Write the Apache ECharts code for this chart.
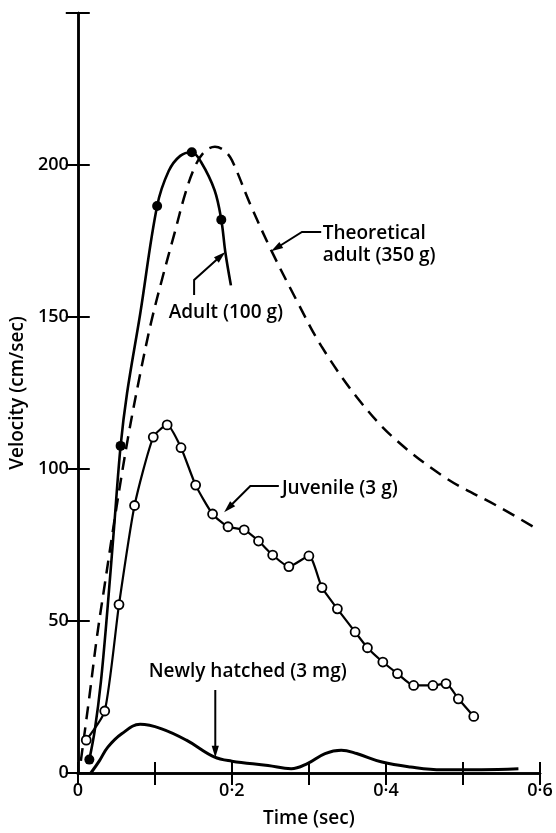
<!DOCTYPE html>
<html><head><meta charset="utf-8">
<script src="https://cdn.jsdelivr.net/npm/echarts@6/dist/echarts.min.js"></script>
<style>html,body{margin:0;padding:0;background:#fff}#c{width:556px;height:833px}</style>
</head><body><div id="c"></div>
<script>
// ---- data (time in sec, velocity in cm/sec) ----
const theoTime = [0.004,0.015,0.025,0.035,0.05,0.065,0.08,0.095,0.11,0.125,0.14,0.153,0.165,0.178,0.19,0.2,0.224,0.251,0.284,0.316,0.362,0.409,0.478,0.547,0.598];
const theoVel  = [4,25,45,62,87,110,130,148,163,177,191,200,204.5,206,204.8,201.6,187,172,155.5,140.5,123.7,110.5,97,87.5,80];

const adultTime = [0.015,0.022,0.03,0.0384,0.047,0.0556,0.064,0.081,0.103,0.118,0.133,0.148,0.16,0.1776,0.1863,0.1915,0.1988];
const adultVel  = [4.4,14,30,53.5,80.5,107.6,125,151,186.5,198,203,204.2,201,191.7,182,171.4,160.4];
const adultDotTime = [0.015,0.0556,0.103,0.148,0.1863];
const adultDotVel  = [4.4,107.6,186.5,204.2,182];

const juvTime = [0.011,0.035,0.0535,0.0737,0.098,0.116,0.134,0.153,0.175,0.195,0.216,0.2346,0.253,0.274,0.300,0.317,0.337,0.360,0.376,0.396,0.415,0.436,0.461,0.478,0.494,0.514];
const juvVel  = [10.8,20.4,55.4,88,110.5,114.5,107,94.7,85.2,81,80,76.3,71.7,67.9,71.4,61,54,46.4,41.2,36.5,32.7,28.8,28.8,29.4,24.4,18.6];

const hatchTime = [0.017,0.028,0.039,0.057,0.081,0.108,0.141,0.177,0.2,0.247,0.277,0.298,0.321,0.342,0.362,0.395,0.432,0.473,0.524,0.572];
const hatchVel  = [0,4,8.5,12.9,16,14.6,10.8,5.3,3.9,2.5,1.4,3.1,6.4,7.5,6.4,3.6,2,1.1,1.1,1.4];

const xTickLabels = {0:'0',2:'0·2',4:'0·4',6:'0·6'};
const yTickLabels = [0,50,100,150,200];

const xTitle = 'Time (sec)';
const yTitle = 'Velocity (cm/sec)';

// annotation anchors in data coordinates: text lines, arrow path (last point = tip)
const notes = [
  {lines:['Theoretical','adult (350 g)'], at:[0.318,177.6], path:[[0.316,178],[0.291,178],[0.251,171.6]]},
  {lines:['Adult (100 g)'], at:[0.118,151.3], path:[[0.151,157.2],[0.151,162.2],[0.1915,171.4]]},
  {lines:['Juvenile (3 g)'], at:[0.265,93.4], path:[[0.261,94.4],[0.224,94.4],[0.19,85.8]]},
  {lines:['Newly hatched (3 mg)'], at:[0.092,33.2], path:[[0.1785,27.3],[0.1785,5]]}
];

const pair = (a,b) => a.map((t,i)=>[t,b[i]]);
const FONT = 'Open Sans';
const FW = 600;
const INK = '#000';

const baseX = {type:'value', min:0, max:0.6, interval:0.1};
const baseY = {type:'value', min:0, max:250, interval:50};

const option = {
  animation:false,
  backgroundColor:'#fff',
  grid:{left:77, right:16, top:13, bottom:57, containLabel:false},
  xAxis:[
    Object.assign({}, baseX, {position:'bottom',
      name:xTitle, nameLocation:'middle', nameGap:36,
      nameTextStyle:{fontFamily:FONT, fontWeight:FW, fontSize:19, color:INK},
      axisLine:{show:true, lineStyle:{color:INK, width:2.5}},
      axisTick:{show:true, inside:true, length:11, lineStyle:{color:INK, width:2}},
      axisLabel:{margin:9, fontFamily:FONT, fontWeight:FW, fontSize:18, color:INK,
        formatter:v=>{const k=Math.round(v*10); return xTickLabels[k]!==undefined?xTickLabels[k]:'';}},
      splitLine:{show:false}}),
    Object.assign({}, baseX, {position:'top',
      axisLine:{show:true, lineStyle:{color:INK, width:2.5}},
      axisTick:{show:true, inside:true, length:12, lineStyle:{color:INK, width:2}},
      axisLabel:{show:false}, splitLine:{show:false}})
  ],
  yAxis:[
    Object.assign({}, baseY, {position:'left',
      name:yTitle, nameLocation:'middle', nameGap:46, nameRotate:90,
      nameTextStyle:{fontFamily:FONT, fontWeight:FW, fontSize:19, color:INK},
      axisLine:{show:true, lineStyle:{color:INK, width:2.5}},
      axisTick:{show:true, inside:true, length:12, lineStyle:{color:INK, width:2}},
      axisLabel:{margin:9, fontFamily:FONT, fontWeight:FW, fontSize:18, color:INK,
        formatter:v=>yTickLabels.indexOf(v)>=0?String(v):''},
      splitLine:{show:false}}),
    Object.assign({}, baseY, {position:'right',
      axisLine:{show:true, lineStyle:{color:INK, width:2.5}},
      axisTick:{show:true, inside:true, length:12, lineStyle:{color:INK, width:2}},
      axisLabel:{show:false}, splitLine:{show:false}})
  ],
  series:[
    {name:'Theoretical adult (350 g)', type:'line', data:pair(theoTime,theoVel), smooth:0.35, symbol:'none',
      lineStyle:{color:INK, width:2.5, type:[13,8]}, z:2},
    {name:'Adult (100 g)', type:'line', data:pair(adultTime,adultVel), smooth:0.35, symbol:'none',
      lineStyle:{color:INK, width:2.6}, z:3},
    {name:'Adult points', type:'scatter', data:pair(adultDotTime,adultDotVel), symbol:'circle', symbolSize:10,
      itemStyle:{color:INK, opacity:1}, z:4},
    {name:'Juvenile (3 g)', type:'line', data:pair(juvTime,juvVel), smooth:0.2, symbol:'circle', symbolSize:9,
      showSymbol:true, itemStyle:{color:'#fff', borderColor:INK, borderWidth:1.8, opacity:1},
      lineStyle:{color:INK, width:2.2}, z:5},
    {name:'Newly hatched (3 mg)', type:'line', data:pair(hatchTime,hatchVel), smooth:0.4, symbol:'none',
      lineStyle:{color:INK, width:3}, z:3}
  ]
};

const chart = echarts.init(document.getElementById('c'), null, {renderer:'canvas'});
chart.setOption(option);

const toPx = p => chart.convertToPixel({seriesIndex:0}, p);
const g = [];
notes.forEach(n=>{
  const a = toPx(n.at);
  n.lines.forEach((s,i)=>{
    g.push({type:'text', x:a[0], y:a[1]+i*22, z:20,
      style:{text:s, fontFamily:FONT, fontWeight:FW, fontSize:19, fill:INK, textAlign:'left', textVerticalAlign:'middle'}});
  });
  const pts = n.path.map(toPx);
  const tip = pts[pts.length-1], prev = pts[pts.length-2];
  const dx = tip[0]-prev[0], dy = tip[1]-prev[1], L = Math.hypot(dx,dy);
  const ux = dx/L, uy = dy/L, hl = 12, hw = 3.6;
  const base = [tip[0]-ux*hl, tip[1]-uy*hl];
  const linePts = pts.slice(0,-1).concat([[tip[0]-ux*hl*0.6, tip[1]-uy*hl*0.6]]);
  g.push({type:'polyline', z:20, shape:{points:linePts}, style:{stroke:INK, lineWidth:2, fill:null}});
  g.push({type:'polygon', z:20, shape:{points:[tip,[base[0]-uy*hw, base[1]+ux*hw],[base[0]+uy*hw, base[1]-ux*hw]]},
    style:{fill:INK, stroke:null}});
});
chart.setOption({graphic:g});
</script>
</body></html>
